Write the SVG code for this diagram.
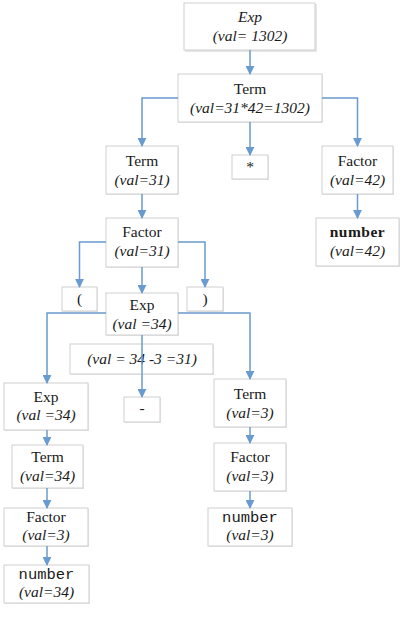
<svg xmlns="http://www.w3.org/2000/svg" width="405" height="617" viewBox="0 0 405 617" font-family="'Liberation Serif', 'Times New Roman', serif">
<style>
.box{fill:#ffffff;stroke:#cfcfcf;stroke-width:1}
.sh{fill:#e6e6e6}
.t{font-size:15.5px;fill:#1a1a1a;text-anchor:middle}
.i{font-style:italic}
.b{font-weight:bold;letter-spacing:0.5px}
.m{font-size:15.5px;fill:#1a1a1a;text-anchor:middle}
.c{fill:none;stroke:#6a9bd0;stroke-width:1.5}
</style>
<defs>
<marker id="a" viewBox="0 0 10 10" refX="9" refY="5" markerWidth="9" markerHeight="9" markerUnits="userSpaceOnUse" orient="auto">
<path d="M0,0 L10,5 L0,10 z" fill="#6a9bd0"/>
</marker>
</defs>

<g id="n-exp-top"><rect class="sh" x="185" y="4" width="132" height="48"/><rect class="box" x="184" y="3" width="131" height="47"/><text class="t i" x="250" y="22">Exp</text><text class="t i" x="250" y="41">(val= 1302)</text></g>
<g id="n-term-top"><rect class="sh" x="179" y="75" width="144" height="48"/><rect class="box" x="178" y="74" width="144" height="48"/><text class="t" x="250" y="94">Term</text><text class="t i" x="250" y="113">(val=31*42=1302)</text></g>
<g id="n-term31"><rect class="sh" x="107" y="147" width="72" height="48"/><rect class="box" x="106" y="146" width="72" height="48"/><text class="t" x="142" y="166">Term</text><text class="t i" x="142" y="185">(val=31)</text></g>
<g id="n-star"><rect class="sh" x="233" y="156" width="36" height="24"/><rect class="box" x="232" y="155" width="36" height="24"/><text class="t" x="250" y="172">*</text></g>
<g id="n-factor42"><rect class="sh" x="323" y="147" width="71" height="48"/><rect class="box" x="322" y="146" width="71" height="48"/><text class="t" x="357.5" y="166">Factor</text><text class="t i" x="357.5" y="185">(val=42)</text></g>
<g id="n-number42"><rect class="sh" x="317" y="219" width="83" height="48"/><rect class="box" x="316" y="218" width="83" height="48"/><text class="t b" x="357.5" y="237">number</text><text class="t i" x="357.5" y="256">(val=42)</text></g>
<g id="n-factor31"><rect class="sh" x="107" y="219" width="72" height="49"/><rect class="box" x="106" y="218" width="72" height="49"/><text class="t" x="142" y="237">Factor</text><text class="t i" x="142" y="256">(val=31)</text></g>
<g id="n-lparen"><rect class="sh" x="63" y="288" width="35" height="24"/><rect class="box" x="62" y="287" width="35" height="24"/><text class="t" x="79.5" y="304">(</text></g>
<g id="n-rparen"><rect class="sh" x="188" y="288" width="36" height="24"/><rect class="box" x="187" y="287" width="36" height="24"/><text class="t" x="205" y="304">)</text></g>
<g id="n-exp34"><rect class="sh" x="107" y="294" width="72" height="42"/><rect class="box" x="106" y="293" width="72" height="42"/><text class="t" x="142" y="310">Exp</text><text class="t i" x="142" y="329">(val =34)</text></g>
<g id="n-calc"><rect class="sh" x="71" y="345" width="143" height="30"/><rect class="box" x="70" y="344" width="143" height="30"/><text class="t i" x="142" y="364">(val = 34 -3 =31)</text></g>
<g id="n-exp34b"><rect class="sh" x="5" y="384" width="84" height="47"/><rect class="box" x="4" y="383" width="84" height="47"/><text class="t" x="46" y="402">Exp</text><text class="t i" x="46" y="420">(val =34)</text></g>
<g id="n-minus"><rect class="sh" x="125" y="398" width="36" height="25"/><rect class="box" x="124" y="397" width="36" height="25"/><text class="t" x="142" y="413">-</text></g>
<g id="n-term3"><rect class="sh" x="215" y="380" width="72" height="48"/><rect class="box" x="214" y="379" width="72" height="48"/><text class="t" x="250" y="399">Term</text><text class="t i" x="250" y="418">(val=3)</text></g>
<g id="n-term34"><rect class="sh" x="13" y="446" width="71" height="43"/><rect class="box" x="12" y="445" width="71" height="43"/><text class="t" x="47.5" y="462">Term</text><text class="t i" x="47.5" y="481">(val=34)</text></g>
<g id="n-factor3r"><rect class="sh" x="215" y="444" width="72" height="48"/><rect class="box" x="214" y="443" width="72" height="48"/><text class="t" x="250" y="462">Factor</text><text class="t i" x="250" y="481">(val=3)</text></g>
<g id="n-factor3l"><rect class="sh" x="5" y="509" width="84" height="38"/><rect class="box" x="4" y="508" width="84" height="38"/><text class="t" x="46" y="522">Factor</text><text class="t i" x="46" y="540">(val=3)</text></g>
<g id="n-number3"><rect class="sh" x="209" y="509" width="84" height="38"/><rect class="box" x="208" y="508" width="84" height="38"/><text class="m" font-family="'Liberation Mono', 'Courier New', monospace" x="250" y="522">number</text><text class="t i" x="250" y="540">(val=3)</text></g>
<g id="n-number34"><rect class="sh" x="5" y="566" width="85" height="38"/><rect class="box" x="4" y="565" width="85" height="38"/><text class="m" font-family="'Liberation Mono', 'Courier New', monospace" x="46.5" y="579">number</text><text class="t i" x="46.5" y="597">(val=34)</text></g>

<g id="connectors">
<path class="c" marker-end="url(#a)" d="M250,50 V74"/>
<path class="c" marker-end="url(#a)" d="M178,98 H142 V146"/>
<path class="c" marker-end="url(#a)" d="M250,122 V155"/>
<path class="c" marker-end="url(#a)" d="M322,98 H357.5 V146"/>
<path class="c" marker-end="url(#a)" d="M142,194 V218"/>
<path class="c" marker-end="url(#a)" d="M357.5,194 V218"/>
<path class="c" marker-end="url(#a)" d="M106,242 H79.5 V287"/>
<path class="c" marker-end="url(#a)" d="M142,267 V293"/>
<path class="c" marker-end="url(#a)" d="M178,242 H205 V287"/>
<path class="c" marker-end="url(#a)" d="M106,313 H47 V383"/>
<path class="c" marker-end="url(#a)" d="M142,335 V397"/>
<path class="c" marker-end="url(#a)" d="M178,313 H250 V379"/>
<path class="c" marker-end="url(#a)" d="M47,430 V445"/>
<path class="c" marker-end="url(#a)" d="M47,488 V508"/>
<path class="c" marker-end="url(#a)" d="M47,546 V565"/>
<path class="c" marker-end="url(#a)" d="M250,427 V443"/>
<path class="c" marker-end="url(#a)" d="M250,491 V508"/>
</g>
</svg>
